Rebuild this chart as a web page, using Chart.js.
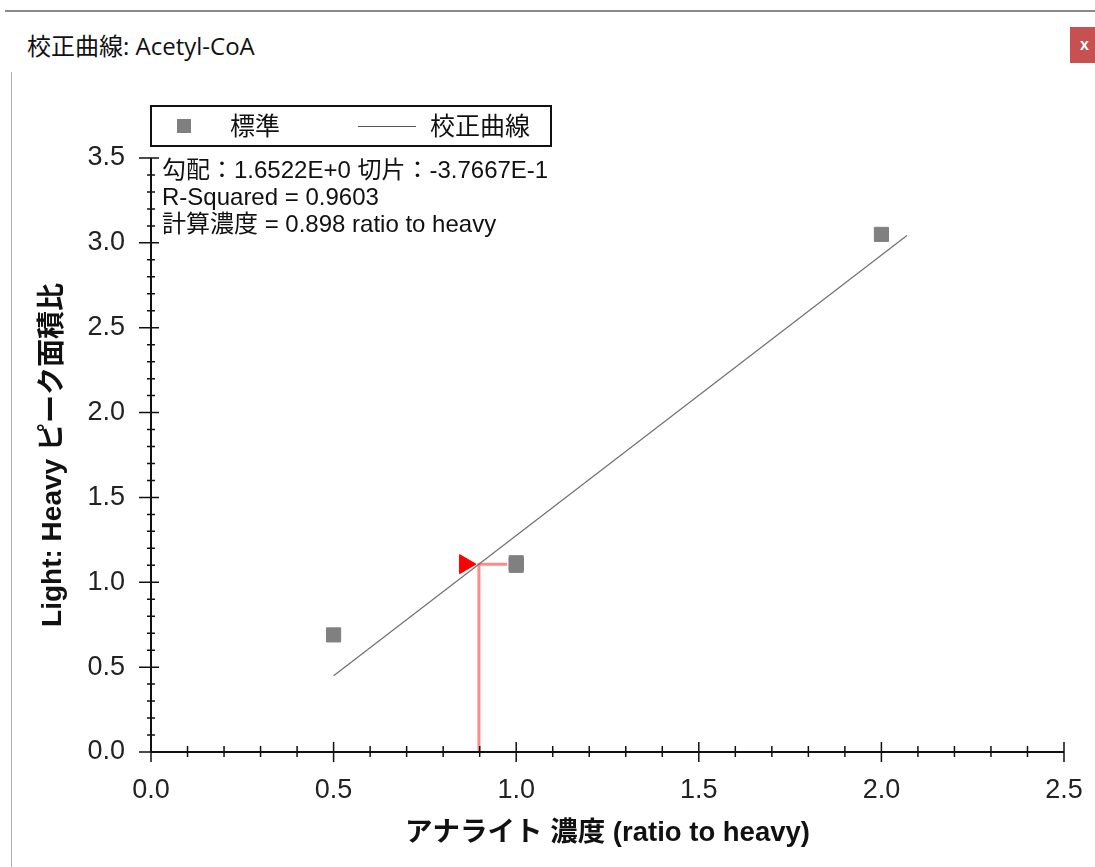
<!DOCTYPE html>
<html lang="ja">
<head>
  <meta charset="UTF-8">
  <title>校正曲線: Acetyl-CoA</title>
  <script src="https://cdn.jsdelivr.net/npm/chart.js"></script>
  <style>
    body { margin: 0; background: #fff; font-family: 'Liberation Sans', Arial, 'Noto Sans CJK JP', sans-serif; }
    #wrap { position: relative; width: 1095px; height: 867px; overflow: hidden; }
    #topLine { position: absolute; left: 5px; top: 10px; width: 1090px; height: 2px; background: #8a8a8a; }
    #leftLine { position: absolute; left: 11px; top: 72px; width: 1px; height: 800px; background: #b0b0b0; }
    #title { position: absolute; left: 27px; top: 27px; font: 24px 'Open Sans', 'Noto Sans CJK JP', sans-serif; color: #111; }
    #closeBtn { position: absolute; left: 1070px; top: 27px; width: 30px; height: 36px; background: #c75050;
      color: #fff; font: bold 16px 'Liberation Sans', Arial, sans-serif; line-height: 36px; padding-left: 10px; box-sizing: border-box; }
    #chartBox { position: absolute; left: 0; top: 0; width: 1095px; height: 867px; }
    #legend { position: absolute; left: 150px; top: 105px; width: 398px; height: 38px; border: 2px solid #111;
      font: 25px 'Liberation Sans', Arial, 'Noto Sans CJK JP', sans-serif; color: #111; }
    #legend span { position: absolute; top: -1px; }
    .sq { position: absolute; left: 25px; top: 12px; width: 14px; height: 14px; background: #808080; }
    .ln { position: absolute; left: 206px; top: 19px; width: 58px; height: 1px; background: #555; }
    #notes { position: absolute; left: 162px; top: 156px; font: 24px 'Liberation Sans', Arial, 'Noto Sans CJK JP', sans-serif;
      line-height: 27px; color: #111; }
  </style>
</head>
<body>
<div id="wrap">
  <div id="topLine"></div>
  <div id="leftLine"></div>
  <div id="title">校正曲線: Acetyl-CoA</div>
  <div id="closeBtn">x</div>
  <div id="chartBox"><canvas id="calChart"></canvas></div>
  <div id="legend">
    <div class="sq"></div><span style="left:78px">標準</span>
    <div class="ln"></div><span style="left:278px">校正曲線</span>
  </div>
  <div id="notes">
    <div>勾配：1.6522E+0 切片：-3.7667E-1</div>
    <div>R-Squared = 0.9603</div>
    <div>計算濃度 = 0.898 ratio to heavy</div>
  </div>
</div>

<script>
  // 標準 (standards)
  const stdConc = [0.5, 1.0, 1.0, 2.0];
  const stdRatio = [0.69, 1.10, 1.115, 3.05];

  // 校正曲線 endpoints (as drawn)
  const fitConc = [0.5, 2.07];
  const fitRatio = [0.449, 3.043];

  // sample
  const calcConc = 0.898;
  const calcRatio = 1.107;
  const sampleMarkConc = 0.86;
  const sampleLineEnd = 0.975;

  const xTicks = [0.0, 0.5, 1.0, 1.5, 2.0, 2.5];
  const yTicks = [0.0, 0.5, 1.0, 1.5, 2.0, 2.5, 3.0, 3.5];

  const fontFam = "'Liberation Sans', Arial, 'Noto Sans CJK JP', sans-serif";

  // axes with crossing major/minor ticks
  const axisPlugin = {
    id: 'axisTicks',
    afterDatasetsDraw(chart) {
      const c = chart.ctx;
      const xs = chart.scales.x, ys = chart.scales.y;
      const x0 = xs.getPixelForValue(0), y0 = ys.getPixelForValue(0);
      c.save();
      c.strokeStyle = '#111';
      c.lineWidth = 2;
      c.beginPath();
      c.moveTo(x0, y0); c.lineTo(xs.getPixelForValue(2.5), y0);
      c.moveTo(x0, y0); c.lineTo(x0, ys.getPixelForValue(3.5));
      c.stroke();
      c.lineWidth = 1.5;
      c.beginPath();
      for (let i = 0; i <= 25; i++) {
        const px = xs.getPixelForValue(i / 10);
        const major = i % 5 === 0;
        c.moveTo(px, y0 - (major ? 10 : 6));
        c.lineTo(px, y0 + (major ? 10 : 5));
      }
      for (let i = 0; i <= 35; i++) {
        const py = ys.getPixelForValue(i / 10);
        const major = i % 5 === 0;
        c.moveTo(x0 - (major ? 12 : 4), py);
        c.lineTo(x0 + (major ? 8 : 4), py);
      }
      c.stroke();
      c.restore();
    }
  };

  const ctx = document.getElementById('calChart').getContext('2d');
  new Chart(ctx, {
    type: 'scatter',
    data: {
      datasets: [
        {
          label: '計算濃度',
          data: [{ x: calcConc, y: 0 }, { x: calcConc, y: calcRatio }, { x: sampleLineEnd, y: calcRatio }],
          showLine: true,
          borderColor: 'rgba(255, 60, 60, 0.6)',
          borderWidth: 3,
          pointRadius: 0,
          order: 3
        },
        {
          label: '校正曲線',
          data: fitConc.map((x, i) => ({ x: x, y: fitRatio[i] })),
          showLine: true,
          borderColor: '#707070',
          borderWidth: 1.2,
          pointRadius: 0,
          order: 2
        },
        {
          label: '標準',
          data: stdConc.map((x, i) => ({ x: x, y: stdRatio[i] })),
          pointStyle: 'rect',
          pointRadius: 10,
          backgroundColor: '#808080',
          borderColor: '#808080',
          borderWidth: 1,
          order: 1
        },
        {
          label: 'sample',
          data: [{ x: sampleMarkConc, y: calcRatio }],
          pointStyle: 'triangle',
          rotation: 90,
          pointRadius: 11,
          backgroundColor: '#ff0000',
          borderColor: '#ff0000',
          order: 0
        }
      ]
    },
    options: {
      responsive: true,
      maintainAspectRatio: false,
      animation: false,
      layout: { padding: { left: 0, top: 158, right: 31, bottom: 0 } },
      plugins: { legend: { display: false }, tooltip: { enabled: false } },
      scales: {
        x: {
          type: 'linear',
          min: 0, max: 2.5,
          afterBuildTicks: (s) => { s.ticks = xTicks.map(v => ({ value: v })); },
          afterFit: (s) => { s.height = 115; s.paddingRight = 0; },
          grid: { display: false, drawTicks: false },
          border: { display: false },
          ticks: { padding: 22, color: '#222', font: { size: 27, family: fontFam }, callback: v => v.toFixed(1) },
          title: {
            display: true,
            text: 'アナライト 濃度 (ratio to heavy)',
            color: '#111',
            font: { size: 27.5, weight: 'bold', family: fontFam },
            padding: { top: 0, bottom: 17 }
          }
        },
        y: {
          type: 'linear',
          min: 0, max: 3.5,
          afterBuildTicks: (s) => { s.ticks = yTicks.map(v => ({ value: v })); },
          afterFit: (s) => { s.width = 151; },
          grid: { display: false, drawTicks: false },
          border: { display: false },
          ticks: { padding: 26, color: '#222', font: { size: 27, family: fontFam }, callback: v => v.toFixed(1) },
          title: {
            display: true,
            text: 'Light: Heavy ピーク面積比',
            color: '#111',
            font: { size: 28, weight: 'bold', family: fontFam },
            padding: { top: 36, bottom: 0 }
          }
        }
      }
    },
    plugins: [axisPlugin]
  });
</script>
</body>
</html>
